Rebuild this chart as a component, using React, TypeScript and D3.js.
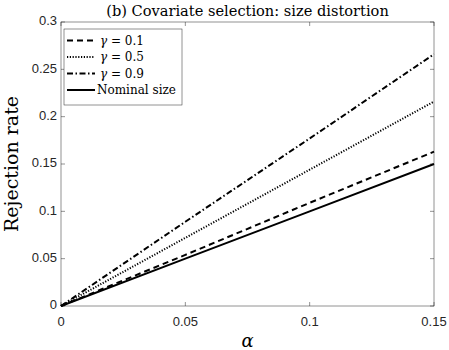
import * as d3 from "d3";
import React, { useEffect, useRef } from "react";

// alpha grid and rejection rates
const alphas = [0, 0.05, 0.1, 0.15];
const gamma01 = [0, 0.054, 0.109, 0.163];
const gamma05 = [0, 0.072, 0.144, 0.216];
const gamma09 = [0, 0.089, 0.177, 0.266];
const nominal = [0, 0.05, 0.1, 0.15];

const xTicks = [0, 0.05, 0.1, 0.15];
const yTicks = [0, 0.05, 0.1, 0.15, 0.2, 0.25, 0.3];

const seriesNames = ["\u03B3 = 0.1", "\u03B3 = 0.5", "\u03B3 = 0.9", "Nominal size"];

export default function App() {
  const svgRef = useRef<SVGSVGElement>(null);

  useEffect(() => {
    const W = 449;
    const H = 350;
    const margin = { top: 22, right: 15, bottom: 44, left: 61 };
    const width = W - margin.left - margin.right;
    const height = H - margin.top - margin.bottom;

    const svg = d3.select(svgRef.current).attr("width", W).attr("height", H);
    svg.selectAll("*").remove();

    const x = d3.scaleLinear().domain([0, 0.15]).range([0, width]);
    const y = d3.scaleLinear().domain([0, 0.3]).range([height, 0]);

    const g = svg.append("g").attr("transform", `translate(${margin.left},${margin.top})`);

    const axisCol = "#262626";
    const sans = "'Liberation Sans', Arial, sans-serif";
    const serif = "'DejaVu Serif', 'Liberation Serif', serif";

    // box
    g.append("rect")
      .attr("x", 0)
      .attr("y", 0)
      .attr("width", width)
      .attr("height", height)
      .attr("fill", "white")
      .attr("stroke", axisCol)
      .attr("stroke-width", 0.5);

    // ticks inside, on all four sides
    xTicks.forEach((t) => {
      g.append("line").attr("x1", x(t)).attr("x2", x(t)).attr("y1", height).attr("y2", height - 4)
        .attr("stroke", axisCol).attr("stroke-width", 0.5);
      g.append("line").attr("x1", x(t)).attr("x2", x(t)).attr("y1", 0).attr("y2", 4)
        .attr("stroke", axisCol).attr("stroke-width", 0.5);
      g.append("text")
        .attr("x", x(t))
        .attr("y", height + 17)
        .attr("text-anchor", "middle")
        .attr("dominant-baseline", "middle")
        .attr("font-family", sans)
        .attr("font-size", 13)
        .attr("fill", axisCol)
        .text(`${t}`);
    });
    yTicks.forEach((t) => {
      g.append("line").attr("x1", 0).attr("x2", 4).attr("y1", y(t)).attr("y2", y(t))
        .attr("stroke", axisCol).attr("stroke-width", 0.5);
      g.append("line").attr("x1", width).attr("x2", width - 4).attr("y1", y(t)).attr("y2", y(t))
        .attr("stroke", axisCol).attr("stroke-width", 0.5);
      g.append("text")
        .attr("x", -4)
        .attr("y", y(t))
        .attr("text-anchor", "end")
        .attr("dominant-baseline", "middle")
        .attr("font-family", sans)
        .attr("font-size", 13)
        .attr("fill", axisCol)
        .text(`${t}`);
    });

    const series = [gamma01, gamma05, gamma09, nominal];
    const dashes = ["6,4", "1.2,1.6", "6,2.5,1.5,2.5", null];

    const line = d3
      .line<number>()
      .x((_, i) => x(alphas[i]))
      .y((d) => y(d));

    series.forEach((s, i) => {
      const p = g.append("path")
        .datum(s)
        .attr("fill", "none")
        .attr("stroke", "black")
        .attr("stroke-width", 2)
        .attr("d", line);
      if (dashes[i]) p.attr("stroke-dasharray", dashes[i]);
    });

    // legend
    const lg = svg.append("g").attr("transform", `translate(64,29)`);
    lg.append("rect")
      .attr("width", 118)
      .attr("height", 76)
      .attr("fill", "white")
      .attr("stroke", axisCol)
      .attr("stroke-width", 0.5);
    seriesNames.forEach((name, i) => {
      const yy = 11.5 + i * 16.5;
      const l = lg.append("line")
        .attr("x1", 3)
        .attr("x2", 31)
        .attr("y1", yy)
        .attr("y2", yy)
        .attr("stroke", "black")
        .attr("stroke-width", 2);
      if (dashes[i]) l.attr("stroke-dasharray", dashes[i]);
      const tx = lg.append("text")
        .attr("x", i === 3 ? 33 : 36)
        .attr("y", yy)
        .attr("dominant-baseline", "middle")
        .attr("font-family", serif)
        .attr("font-size", 12)
        .attr("fill", "black");
      if (i < 3) {
        tx.append("tspan").attr("font-style", "italic").text("\u03B3");
        tx.append("tspan").text(name.slice(1));
      } else {
        tx.text(name);
      }
    });

    // title
    svg.append("text")
      .attr("x", margin.left + width / 2)
      .attr("y", 12)
      .attr("text-anchor", "middle")
      .attr("dominant-baseline", "middle")
      .attr("font-family", serif)
      .attr("font-size", 14.6)
      .attr("fill", "black")
      .text("(b) Covariate selection: size distortion");

    // axis labels
    svg.append("text")
      .attr("x", margin.left + width / 2)
      .attr("y", 342)
      .attr("text-anchor", "middle")
      .attr("dominant-baseline", "middle")
      .attr("font-family", serif)
      .attr("font-style", "italic")
      .attr("font-size", 18)
      .attr("fill", "black")
      .text("\u03B1");

    svg.append("text")
      .attr("transform", `translate(13,${margin.top + height / 2}) rotate(-90)`)
      .attr("text-anchor", "middle")
      .attr("dominant-baseline", "middle")
      .attr("font-family", serif)
      .attr("font-size", 19)
      .attr("fill", "black")
      .text("Rejection rate");
  }, []);

  return (
    <div style={{ position: "absolute", left: 0, top: 0 }}>
      <svg ref={svgRef}></svg>
    </div>
  );
}
